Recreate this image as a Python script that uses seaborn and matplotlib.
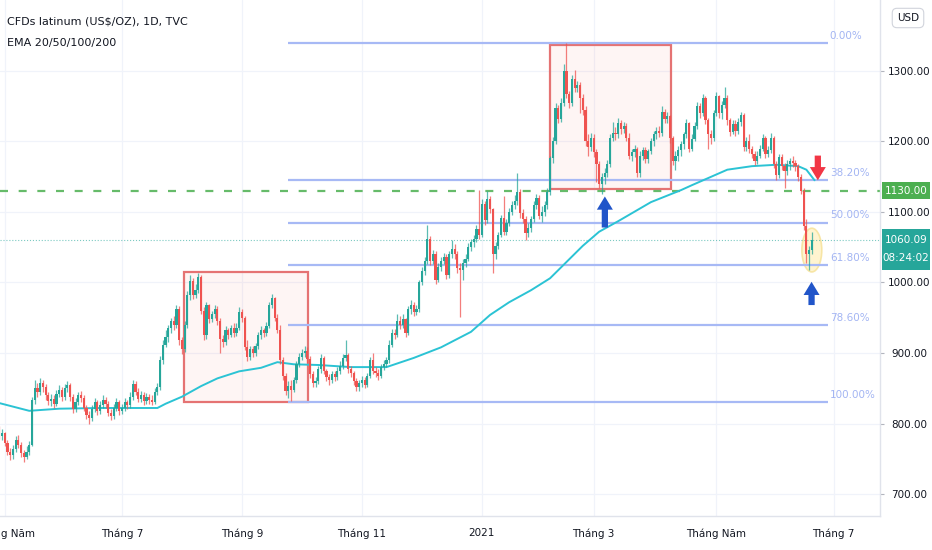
import numpy as np
import pandas as pd
import matplotlib.pyplot as plt
import seaborn as sns
from matplotlib.patches import Rectangle, Ellipse, FancyArrowPatch
from matplotlib.transforms import blended_transform_factory

# ---------------- data ----------------
# daily candles, bar index 1..299 (business days from 2020-04-28)
first_open = 790
closes = [
    782, 786, 772, 760, 755, 764, 776, 770, 758, 752,
    760, 770, 833, 850, 845, 858, 852, 840, 832, 835,
    828, 842, 848, 838, 850, 855, 838, 820, 830, 840,
    836, 822, 812, 808, 820, 830, 818, 826, 834, 828,
    815, 810, 822, 830, 818, 822, 830, 826, 838, 856,
    845, 835, 840, 832, 838, 834, 830, 845, 852, 890,
    912, 922, 935, 945, 940, 963, 918, 905, 940, 982,
    1002, 982, 990, 1008, 960, 925, 968, 948, 955, 963,
    946, 920, 915, 933, 926, 935, 928, 936, 958, 950,
    908, 894, 905, 900, 910, 925, 932, 928, 938, 968,
    978, 950, 933, 890, 868, 846, 853, 848, 862, 884,
    895, 900, 903, 892, 870, 858, 860, 877, 893, 874,
    866, 862, 870, 866, 875, 882, 893, 897, 878, 872,
    860, 852, 858, 862, 855, 868, 890, 875, 872, 868,
    880, 885, 890, 912, 928, 926, 945, 940, 948, 928,
    962, 968, 958, 962, 1000, 1016, 1030, 1062, 1030, 1040,
    1003, 1022, 1030, 1036, 1010, 1040, 1048, 1040, 1020, 1018,
    1028, 1034, 1050, 1058, 1062, 1076, 1068, 1112, 1088, 1118,
    1104, 1040, 1052, 1068, 1092, 1072, 1085, 1100, 1110, 1116,
    1128, 1098, 1090, 1070, 1078, 1090, 1110, 1120, 1095, 1100,
    1110, 1128, 1176, 1200, 1248, 1232, 1255, 1300, 1268, 1255,
    1288, 1276, 1280, 1262, 1245, 1200, 1192, 1205, 1185, 1168,
    1140, 1150, 1155, 1168, 1205, 1212, 1210, 1226, 1218, 1222,
    1205, 1180, 1185, 1190, 1155, 1180, 1188, 1175, 1186, 1200,
    1210, 1215, 1212, 1242, 1232, 1236, 1205, 1172, 1180, 1188,
    1196, 1210, 1226, 1190, 1204, 1222, 1250, 1240, 1262, 1230,
    1210, 1205, 1240, 1264, 1240, 1252, 1262, 1230, 1214, 1225,
    1215, 1228, 1238, 1192, 1200, 1190, 1182, 1172, 1180, 1190,
    1205, 1182, 1188, 1205, 1168, 1152, 1178, 1165, 1158, 1168,
    1172, 1170, 1165, 1150, 1130, 1080, 1040, 1046, 1060.09,
]
highs = [
    796, 792, 788, 776, 765, 770, 782, 784, 774, 762,
    768, 775, 838, 862, 858, 864, 862, 856, 845, 842,
    840, 848, 855, 852, 856, 860, 858, 842, 836, 845,
    846, 840, 826, 818, 826, 836, 834, 832, 840, 838,
    832, 820, 828, 836, 834, 828, 836, 834, 844, 862,
    860, 850, 846, 844, 843, 842, 840, 850, 858, 896,
    918, 932, 940, 950, 952, 968, 966, 922, 945, 988,
    1010, 1006, 998, 1013, 1010, 965, 972, 970, 960, 968,
    966, 950, 926, 938, 936, 940, 942, 942, 965, 962,
    952, 918, 910, 910, 914, 930, 938, 936, 944, 972,
    984, 980, 955, 940, 894, 872, 860, 862, 866, 888,
    900, 906, 910, 908, 896, 874, 866, 882, 898, 896,
    878, 870, 875, 874, 880, 888, 898, 918, 900, 882,
    875, 864, 862, 868, 866, 872, 895, 900, 880, 878,
    884, 890, 895, 918, 934, 934, 955, 952, 955, 950,
    966, 975, 972, 968, 1004, 1022, 1036, 1081, 1066, 1046,
    1044, 1028, 1036, 1042, 1040, 1044, 1060, 1054, 1044, 1028,
    1034, 1040, 1056, 1062, 1068, 1082, 1131, 1118, 1116, 1130,
    1122, 1106, 1058, 1072, 1096, 1122, 1090, 1105, 1116, 1124,
    1155, 1132, 1104, 1094, 1084, 1095, 1115, 1126, 1124, 1108,
    1116, 1134, 1180, 1206, 1254, 1252, 1262, 1310, 1340, 1272,
    1294, 1301, 1286, 1284, 1268, 1250, 1210, 1212, 1210, 1190,
    1172, 1156, 1162, 1174, 1210, 1228, 1220, 1234, 1230, 1228,
    1226, 1212, 1190, 1195, 1192, 1186, 1192, 1192, 1190, 1205,
    1215, 1220, 1222, 1250, 1246, 1242, 1238, 1208, 1186, 1194,
    1200, 1214, 1232, 1228, 1210, 1228, 1256, 1254, 1268, 1265,
    1234, 1216, 1245, 1270, 1266, 1258, 1278, 1266, 1234, 1230,
    1230, 1234, 1242, 1240, 1206, 1210, 1194, 1186, 1186, 1195,
    1210, 1208, 1194, 1212, 1208, 1172, 1182, 1182, 1170, 1174,
    1176, 1180, 1174, 1168, 1154, 1134, 1090, 1052, 1072,
]
lows = [
    778, 776, 768, 755, 748, 750, 760, 765, 752, 746,
    750, 755, 768, 828, 838, 840, 845, 834, 826, 825,
    822, 825, 838, 832, 834, 845, 832, 815, 816, 826,
    830, 818, 806, 800, 804, 816, 812, 814, 822, 822,
    810, 805, 806, 818, 812, 814, 818, 820, 822, 834,
    840, 830, 830, 826, 828, 828, 826, 828, 840, 848,
    885, 908, 915, 928, 932, 936, 912, 898, 902, 936,
    975, 976, 978, 985, 955, 918, 920, 942, 944, 950,
    940, 900, 908, 912, 920, 922, 922, 924, 932, 944,
    904, 888, 890, 895, 896, 906, 920, 922, 924, 935,
    964, 945, 928, 885, 862, 840, 836, 832, 844, 858,
    880, 890, 894, 886, 864, 852, 852, 856, 872, 870,
    860, 855, 858, 860, 862, 870, 878, 888, 872, 866,
    855, 846, 846, 852, 850, 852, 864, 870, 866, 862,
    864, 876, 880, 886, 908, 920, 922, 934, 936, 922,
    925, 956, 952, 954, 958, 996, 1010, 1026, 1025, 1026,
    998, 1000, 1016, 1026, 1005, 1006, 1035, 1034, 1014, 951,
    1003, 1022, 1030, 1044, 1050, 1058, 1062, 1064, 1082, 1084,
    1098, 1013, 1034, 1048, 1064, 1068, 1068, 1080, 1096, 1104,
    1110, 1092, 1084, 1060, 1064, 1072, 1086, 1104, 1090, 1086,
    1094, 1104, 1124, 1170, 1196, 1226, 1228, 1250, 1262, 1248,
    1250, 1270, 1270, 1240, 1238, 1194, 1180, 1186, 1178, 1142,
    1134, 1126, 1140, 1150, 1164, 1200, 1202, 1205, 1210, 1212,
    1200, 1175, 1172, 1178, 1150, 1150, 1174, 1170, 1170, 1182,
    1194, 1204, 1206, 1208, 1226, 1226, 1198, 1166, 1160, 1172,
    1180, 1190, 1205, 1185, 1186, 1200, 1218, 1234, 1236, 1225,
    1190, 1196, 1200, 1236, 1234, 1232, 1248, 1224, 1208, 1210,
    1208, 1210, 1222, 1186, 1186, 1184, 1176, 1166, 1168, 1176,
    1186, 1176, 1178, 1184, 1162, 1145, 1148, 1160, 1134, 1152,
    1160, 1164, 1158, 1144, 1126, 1075, 1028, 1018, 1040,
]

# EMA line read at sample bars
ema_bars = [1, 12, 23, 38, 49, 59, 62, 68, 75, 81, 89, 97, 103, 109, 118, 130,
            143, 153, 163, 174, 181, 188, 196, 203, 209, 215, 221, 228, 240,
            251, 255, 268, 277, 286, 294, 297, 300]
ema_vals = [829, 818, 821, 822, 822, 822, 828, 838, 853, 864, 874, 879, 887, 884,
            883, 880, 880, 893, 908, 930, 954, 972, 989, 1006, 1029, 1052, 1072,
            1087, 1114, 1131, 1138, 1160, 1165, 1167, 1165, 1160, 1145]

fib_levels = [0.0, 0.382, 0.5, 0.618, 0.786, 1.0]
fib_high, fib_low = 1340, 830
support_level = 1130.0
last_price = 1060.09
last_time = '08:24:02'

price_ticks = [700, 800, 900, 1000, 1100, 1200, 1300]
tick_months = ['2020-05', '2020-07', '2020-09', '2020-11',
               '2021-01', '2021-03', '2021-05', '2021-07']
tick_labels = ['Tháng Năm', 'Tháng 7', 'Tháng 9', 'Tháng 11',
               '2021', 'Tháng 3', 'Tháng Năm', 'Tháng 7']

# ---------------- style ----------------
sns.set_theme(style='white')
plt.rcParams['font.family'] = ['Liberation Sans Narrow', 'DejaVu Sans Condensed', 'DejaVu Sans']

UP = '#26a69a'
DOWN = '#ef5350'
TEXT = '#131722'
FIB = '#a7b9f5'

fig = plt.figure(figsize=(9.32, 5.5), dpi=100)
ax = fig.add_axes([0, 34 / 550, 880 / 932, 516 / 550])
ax.set_facecolor('white')

bars = np.arange(1, len(closes) + 1)
c = np.array(closes, dtype=float)
o = np.concatenate([[first_open], c[:-1]])
h = np.maximum(np.array(highs, dtype=float), np.maximum(o, c))
l = np.minimum(np.array(lows, dtype=float), np.minimum(o, c))
up = c >= o
colors = np.where(up, UP, DOWN)
body = c - o
body = np.where(np.abs(body) < 1.5, np.where(up, 1.5, -1.5), body)

# annotations under candles
ax.add_patch(Rectangle((68.8, 830), 45.4, 185, fc=(0.96, 0.26, 0.21, 0.05),
                       ec='#e57373', lw=1.6, zorder=1))
ax.add_patch(Rectangle((203.0, 1132.6), 44.3, 204.3, fc=(0.96, 0.26, 0.21, 0.05),
                       ec='#e57373', lw=1.6, zorder=1))
ax.add_patch(Ellipse((299, 1046), 7.3, 62, fc='#fff3c8', ec='#f6e29a',
                     lw=1.2, alpha=0.85, zorder=1.5))

for lev in fib_levels:
    price = fib_high - lev * (fib_high - fib_low)
    ax.plot([107, 305], [price, price], color=FIB, lw=1.6, zorder=1.8,
            solid_capstyle='butt')
    ax.text(305.6, price + 3, f'{lev * 100:.2f}%', color='#a3b5f3', fontsize=7.5,
            ha='left', va='bottom', zorder=5)

ax.axhline(support_level, color='#66bb6a', lw=1.6, ls=(0, (3.6, 4.8)), zorder=1.9)
ax.axhline(last_price, color=UP, lw=0.8, ls=':', alpha=0.6, zorder=1.9)

sns.lineplot(x=ema_bars, y=ema_vals, ax=ax, color='#2bc3d4', lw=1.4, zorder=2.5)

ax.vlines(bars, l, h, colors=colors, lw=0.9, alpha=0.75, zorder=3)
ax.bar(bars, body, bottom=o, width=0.8, color=colors, linewidth=0, zorder=3.1)

arrow_style = 'simple,head_length=0.95,head_width=1.15,tail_width=0.45'
for x, y0, y1, col in [(223.1, 1078, 1122, '#2155c9'),
                       (298.9, 968, 1001, '#2155c9'),
                       (301.2, 1180, 1145, '#f23645')]:
    ax.add_patch(FancyArrowPatch((x, y0), (x, y1), arrowstyle=arrow_style,
                                 mutation_scale=10, color=col, lw=0,
                                 shrinkA=0, shrinkB=0, zorder=6))

# ---------------- axes ----------------
ax.set_xlim(1.28, 324.0)
ax.set_ylim(668.8, 1400.7)

dates = pd.bdate_range('2020-04-28', periods=340)
tick_pos = [int(np.searchsorted(dates, pd.Timestamp(m + '-01'))) for m in tick_months]
ax.set_xticks(tick_pos)
ax.set_xticklabels(tick_labels, fontsize=7.5, color=TEXT)
ax.yaxis.tick_right()
ax.set_yticks(price_ticks)
ax.set_yticklabels([f'{v:.2f}' for v in price_ticks], fontsize=7.5, color=TEXT)
plt.setp(ax.get_yticklabels(), ha='center')
ax.tick_params(axis='x', length=0, pad=9)
ax.tick_params(axis='y', length=3, width=0.8, color='#b2b5be', pad=18)
ax.grid(True, color='#f0f3fa', lw=0.9)
ax.set_axisbelow(True)
for side in ['top', 'left']:
    ax.spines[side].set_visible(False)
for side in ['right', 'bottom']:
    ax.spines[side].set_color('#e0e3eb')
    ax.spines[side].set_linewidth(1)

# price scale labels
trans = blended_transform_factory(fig.transFigure, ax.transData)
ax.add_patch(Rectangle((882 / 932, support_level - 12), 48 / 932, 24, transform=trans,
                       fc='#4caf50', ec='none', clip_on=False, zorder=7))
ax.text(906 / 932, support_level, f'{support_level:.2f}', transform=trans, ha='center',
        va='center', color='white', fontsize=7.5, clip_on=False, zorder=8)
ax.add_patch(Rectangle((882 / 932, 1046.8 - 29), 48 / 932, 58, transform=trans,
                       fc=UP, ec='none', clip_on=False, zorder=7))
ax.text(906 / 932, 1060.3, f'{last_price:.2f}', transform=trans, ha='center',
        va='center', color='white', fontsize=7.5, clip_on=False, zorder=8)
ax.text(906 / 932, 1034.8, last_time, transform=trans, ha='center',
        va='center', color='white', fontsize=7.5, clip_on=False, zorder=8)

fig.text(908 / 932, 1 - 18 / 550, 'USD', ha='center', va='center', fontsize=7.5,
         color=TEXT, bbox=dict(boxstyle='round,pad=0.45', fc='white', ec='#d1d4dc', lw=0.8))

fig.text(7 / 932, 1 - 22 / 550, 'CFDs latinum (US$/OZ), 1D, TVC', ha='left',
         va='center', fontsize=8, color=TEXT)
fig.text(7 / 932, 1 - 43 / 550, 'EMA 20/50/100/200', ha='left',
         va='center', fontsize=8, color=TEXT)

fig.savefig('out.png', dpi=100, facecolor='white')
